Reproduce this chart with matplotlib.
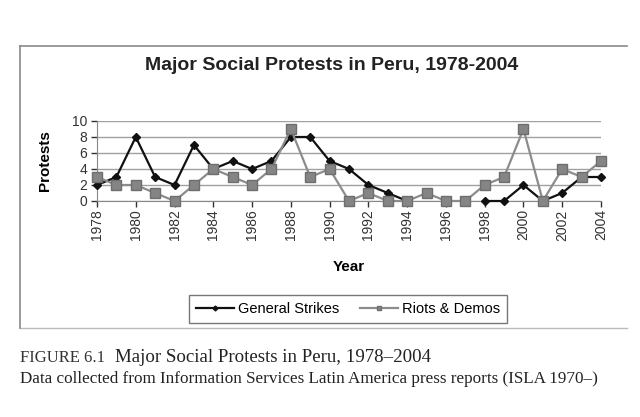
import numpy as np
import matplotlib
matplotlib.use("Agg")
import matplotlib.pyplot as plt
from matplotlib.lines import Line2D

years = list(range(1978, 2005))
strikes = [2, 3, 8, 3, 2, 7, 4, 5, 4, 5, 8, 8, 5, 4, 2, 1, 0,
           np.nan, np.nan, np.nan, 0, 0, 2, 0, 1, 3, 3]
riots = [3, 2, 2, 1, 0, 2, 4, 3, 2, 4, 9, 3, 4, 0, 1, 0, 0,
         1, 0, 0, 2, 3, 9, 0, 4, 3, 5]
tick_years = list(range(1978, 2005, 2))

W, H = 640, 417
fig = plt.figure(figsize=(6.4, 4.17), dpi=100)
fig.patch.set_facecolor("white")

sans = "Liberation Sans"
serif = "Liberation Serif"

# chart frame (top, left, bottom)
frame = "#8a8a8a"
fig.add_artist(Line2D([20 / W, 627 / W], [1 - 46 / H, 1 - 46 / H], color=frame, lw=1.2))
fig.add_artist(Line2D([20 / W, 627 / W], [1 - 328 / H, 1 - 328 / H], color="#bbbbbb", lw=1.0))
fig.add_artist(Line2D([20 / W, 20 / W], [1 - 46 / H, 1 - 328 / H], color=frame, lw=1.2))

ax = fig.add_axes([97 / W, 1 - 201 / H, (601 - 97) / W, (201 - 121) / H])
ax.set_xlim(1978, 2004)
ax.set_ylim(0, 10)
ax.set_yticks(range(0, 11, 2))
ax.set_xticks(tick_years)
ax.set_xticklabels([str(y) for y in tick_years], rotation=90, fontsize=10, family=sans)
ax.set_yticklabels([str(v) for v in range(0, 11, 2)], fontsize=10, family=sans)
ax.grid(axis="y", color="#a0a0a0", lw=1.0)
ax.set_axisbelow(True)
for s in ["top", "right"]:
    ax.spines[s].set_visible(False)
ax.spines["left"].set_color("#888888")
ax.spines["bottom"].set_color("#888888")
ax.tick_params(axis="both", colors="#333333", length=4, width=1, pad=2)
ax.tick_params(axis="y", pad=3)

ax.plot(years, strikes, color="#111111", lw=1.6, marker="D", ms=4.5,
        mfc="#111111", mec="#111111", clip_on=False, zorder=3, label="General Strikes")
ax.plot(years, riots, color="#8c8c8c", lw=1.6, marker="s", ms=6.5,
        mfc="#858585", mec="#6e6e6e", clip_on=False, zorder=4, label="Riots & Demos")

ax.set_xlabel("Year", fontsize=11, fontweight="bold", family=sans, labelpad=14)
ax.set_ylabel("Protests", fontsize=11, fontweight="bold", family=sans, labelpad=14)

fig.text(332 / W, 1 - 66 / H, "Major Social Protests in Peru, 1978-2004",
         ha="center", va="center", fontsize=14, fontweight="bold", family=sans, color="#222222")

leg = ax.legend(loc="center", bbox_to_anchor=(348 / W, 1 - 309 / H), bbox_transform=fig.transFigure,
                ncol=2, frameon=True, fancybox=False, prop={"family": sans, "size": 10.5},
                handlelength=2.6, columnspacing=1.4, borderpad=0.45, handletextpad=0.3,
                markerscale=0.55)
leg.get_frame().set_edgecolor("#555555")
leg.get_frame().set_linewidth(1.0)

# caption
fig.text(20 / W, 1 - 358 / H, "FIGURE 6.1", ha="left", va="center",
         fontsize=12, family=serif, color="#333333")
fig.text(115 / W, 1 - 358 / H, "Major Social Protests in Peru, 1978\u20132004", ha="left", va="center",
         fontsize=13.6, family=serif, color="#222222")
fig.text(20 / W, 1 - 379 / H,
         "Data collected from Information Services Latin America press reports (ISLA 1970\u2013)",
         ha="left", va="center", fontsize=12.3, family=serif, color="#222222")

fig.savefig("out.png", dpi=100)
